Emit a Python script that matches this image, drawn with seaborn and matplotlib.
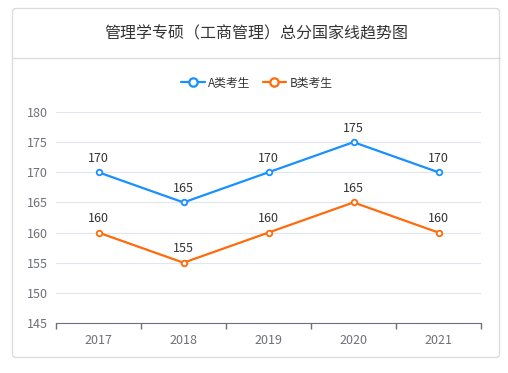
import numpy as np
import pandas as pd
import seaborn as sns
import matplotlib.pyplot as plt
from matplotlib.patches import FancyBboxPatch
from matplotlib.lines import Line2D

years = ['2017', '2018', '2019', '2020', '2021']
score_a = [170, 165, 170, 175, 170]
score_b = [160, 155, 160, 165, 160]
series_names = ['A类考生', 'B类考生']
colors = ['#1890ff', '#ff6a0b']

sns.set_style('white')
plt.rcParams['font.family'] = ['Noto Sans CJK SC', 'DejaVu Sans']

df = pd.DataFrame({
    'pos': list(range(len(years))) * 2,
    'score': score_a + score_b,
    'group': [series_names[0]] * len(years) + [series_names[1]] * len(years),
})

fig = plt.figure(figsize=(5.08, 3.73), dpi=100)
W, H = 508, 373

# card background + header line
card = FancyBboxPatch((12.5 / W, 1 - 357.5 / H), 487 / W, 349 / H,
                      boxstyle='round,pad=0,rounding_size=0.008',
                      transform=fig.transFigure, facecolor='white',
                      edgecolor='#dcdcdc', linewidth=1, zorder=-5)
fig.patches.append(card)
fig.add_artist(Line2D([12.5 / W, 499.5 / W], [1 - 57.5 / H] * 2,
                      transform=fig.transFigure, color='#dcdcdc', lw=1, zorder=-4))
fig.text(256 / W, 1 - 34 / H, '管理学专硕（工商管理）总分国家线趋势图',
         ha='center', va='center', fontsize=11.5, color='#333333')

ax = fig.add_axes([56 / W, 1 - 323 / H, 425 / W, 211 / H])
ax.set_facecolor('none')

sns.lineplot(data=df, x='pos', y='score', hue='group', palette=colors,
             marker='o', markersize=4, markerfacecolor='white',
             markeredgewidth=1.3, linewidth=1.6, ax=ax, legend=False)
for line, c in zip(ax.lines, colors):
    line.set_markeredgecolor(c)

for vals in (score_a, score_b):
    for i, v in enumerate(vals):
        ax.text(i, v + 1.2, str(v), ha='center', va='bottom',
                fontsize=9, color='#333333')

ax.set_xlim(-0.5, len(years) - 0.5)
ax.set_ylim(145, 180)
ax.set_yticks(np.arange(145, 181, 5))
ax.tick_params(axis='y', length=0, labelsize=9, labelcolor='#6e7079', pad=6)
ax.yaxis.grid(True, color='#e0e6f1', linewidth=0.8)
ax.set_axisbelow(True)

ax.set_xticks(np.arange(-0.5, len(years), 1.0))
ax.set_xticklabels([])
ax.set_xticks(range(len(years)), minor=True)
ax.set_xticklabels(years, minor=True)
ax.tick_params(axis='x', which='major', bottom=True, length=4,
               color='#6e7079', width=1)
ax.tick_params(axis='x', which='minor', bottom=False, length=0, labelsize=9,
               labelcolor='#6e7079', pad=8)

for s in ['top', 'right', 'left']:
    ax.spines[s].set_visible(False)
ax.spines['bottom'].set_color('#6e7079')
ax.set_xlabel('')
ax.set_ylabel('')

handles = [Line2D([], [], color=c, lw=1.6, marker='o', markersize=6,
                  markerfacecolor='white', markeredgewidth=1.6)
           for c in colors]
fig.legend(handles, series_names, loc='center', bbox_to_anchor=(257 / W, 1 - 83 / H),
           ncol=2, frameon=False, fontsize=8.5, handlelength=2.0,
           handletextpad=0.3, columnspacing=1.0, labelcolor='#333333')

fig.savefig('out.png', dpi=100)
